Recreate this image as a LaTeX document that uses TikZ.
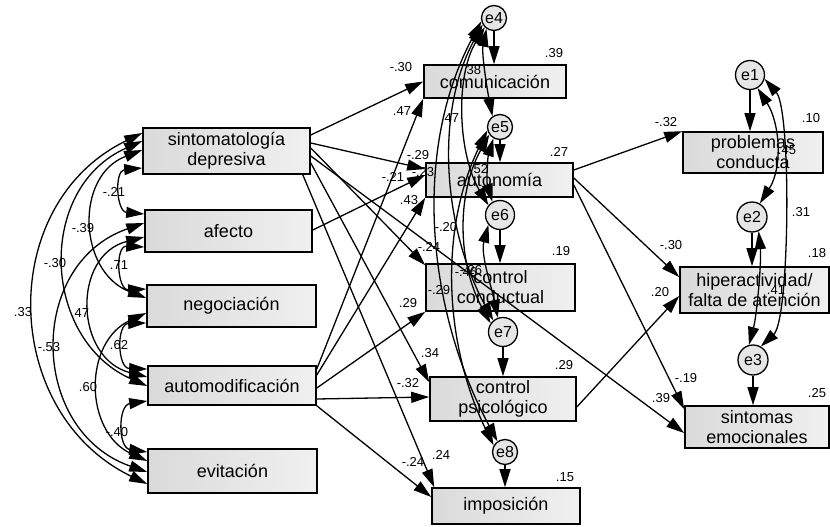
\documentclass[tikz,border=0pt]{standalone}
\usepackage{fontspec}
\setmainfont{Liberation Sans}
\usetikzlibrary{arrows.meta}
\definecolor{boxdark}{RGB}{218,218,218}
\definecolor{boxlight}{RGB}{240,240,240}
\definecolor{errfill}{RGB}{230,230,230}
\begin{document}
\begin{tikzpicture}[x=1pt,y=-1pt,
  var/.style={draw, line width=1.6pt, left color=boxdark, right color=boxlight,
    inner sep=0pt, align=center, font=\fontsize{18}{20}\selectfont},
  err/.style={circle, draw, line width=1.3pt, fill=errfill, inner sep=0pt,
    minimum size=#1, font=\fontsize{16}{16}\selectfont},
  reg/.style={line width=1.3pt, -{Triangle[length=18pt,width=11pt]}},
  cov/.style={line width=1.3pt, {Triangle[length=18pt,width=11pt]}-{Triangle[length=18pt,width=11pt]}},
  lbl/.style={inner sep=0pt, font=\fontsize{13}{13}\selectfont}]
\useasboundingbox[fill=white] (0,0) rectangle (830,527);

% observed variables, left column
\node[var, minimum width=167pt, minimum height=46pt] (sd) at (226.5,151) {sintomatología\\depresiva};
\node[var, minimum width=167pt, minimum height=42pt] (af) at (228.5,231) {afecto};
\node[var, minimum width=169pt, minimum height=42pt] (ne) at (231.5,306) {negociación};
\node[var, minimum width=168pt, minimum height=39pt] (am) at (232,385.5) {automodificación};
\node[var, minimum width=169pt, minimum height=44pt] (ev) at (232.5,471) {evitación};

% middle column
\node[var, minimum width=142pt, minimum height=33pt] (com) at (495,81.5) {comunicación};
\node[var, minimum width=147pt, minimum height=34pt] (aut) at (499.5,180) {autonomía};
\node[var, minimum width=149pt, minimum height=47pt] (cc) at (500.5,287.5) {control\\conductual};
\node[var, minimum width=146pt, minimum height=44pt] (cp) at (503,399) {control\\psicológico};
\node[var, minimum width=148pt, minimum height=36pt] (imp) at (506,506) {imposición};

% right column
\node[var, minimum width=140pt, minimum height=41pt] (pc) at (753,152.5) {problemas\\conducta};
\node[var, minimum width=149pt, minimum height=46pt] (hi) at (754.5,290) {hiperactividad/\\falta de atención};
\node[var, minimum width=144pt, minimum height=42pt] (se) at (757,427) {sintomas\\emocionales};

% error terms
\node[err=29pt] (e1) at (750,75) {e1};
\node[err=30pt] (e2) at (752,217) {e2};
\node[err=30pt] (e3) at (753,360) {e3};
\node[err=25pt] (e4) at (494,18) {e4};
\node[err=25pt] (e5) at (500,127) {e5};
\node[err=29pt] (e6) at (500,215) {e6};
\node[err=29pt] (e7) at (503,332) {e7};
\node[err=25pt] (e8) at (505,452) {e8};

% covariances among the predictors
\draw[cov] ([yshift=18pt]sd.west) .. controls +(-146.7,71) and +(-146.7,-71) .. ([yshift=-13pt]ev.west);
\draw[cov] ([yshift=8pt]af.west) .. controls +(-118,41) and +(-118,-41) .. ([yshift=-1pt]ev.west);
\draw[cov] ([yshift=10pt]sd.west) .. controls +(-106,47) and +(-106,-47) .. ([yshift=-0.5pt]am.west);
\draw[cov] ([yshift=-6pt]af.west) .. controls +(-72.7,18.4) and +(-72.7,-18.4) .. ([yshift=8.5pt]am.west);
\draw[cov] ([yshift=1pt]sd.west) .. controls +(-68,26) and +(-68,-26) .. ([yshift=8pt]ne.west);
\draw[cov] ([yshift=-7pt]ne.west) .. controls +(-63.3,29) and +(-63.3,-29) .. ([yshift=10pt]ev.west);
\draw[cov] ([yshift=-17pt]sd.west) .. controls +(-28,2.5) and +(-28,-2.5) .. ([yshift=17pt]af.west);
\draw[cov] ([yshift=-16pt]af.west) .. controls +(-29.3,-1.4) and +(-29.3,1.4) .. ([yshift=17pt]ne.west);
\draw[cov] ([yshift=-17pt]ne.west) .. controls +(-30,0.7) and +(-30,-0.7) .. ([yshift=16.5pt]am.west);
\draw[cov] ([yshift=-15.5pt]am.west) .. controls +(-29.3,4.3) and +(-29.3,-4.3) .. ([yshift=19pt]ev.west);

% regressions from sintomatología depresiva
\draw[reg] ([yshift=16pt]sd.east) -- (com.west);
\draw[reg] ([yshift=8pt]sd.east) -- ([yshift=11pt]aut.west);
\draw[reg] ([yshift=3pt]sd.east) -- ([yshift=-2pt]cc.north west);
\draw[reg] ([yshift=-12pt]sd.east) -- ([yshift=-6pt]cp.north west);
\draw[reg] ([xshift=-8pt]sd.south east) -- ([xshift=3pt]imp.north west);
\draw[reg] ([yshift=-5pt]sd.east) -- ([yshift=-6pt]se.west);
% regression from afecto
\draw[reg] ([yshift=1pt]af.east) -- ([yshift=5pt]aut.west);
% regressions from automodificación
\draw[reg] ([yshift=16.5pt]am.east) -- (com.south west);
\draw[reg] ([yshift=10.5pt]am.east) -- (aut.south west);
\draw[reg] ([yshift=-2.5pt]am.east) -- (cc.south west);
\draw[reg] ([yshift=-13.5pt]am.east) -- ([yshift=2pt]cp.west);
\draw[reg] (am.south east) -- ([yshift=9pt]imp.west);
% regressions from autonomía and control psicológico
\draw[reg] ([yshift=10pt]aut.east) -- (pc.north west);
\draw[reg] ([yshift=2pt]aut.east) -- ([yshift=13pt]hi.west);
\draw[reg] ([yshift=-5pt]aut.east) -- ([yshift=-4pt]se.north west);
\draw[reg] ([yshift=-8pt]cp.east) -- ([yshift=-6pt]hi.west);

% error terms into their variables
\draw[reg] (e4.south) -- (e4.south |- com.north);
\draw[reg] (e5.south) -- (e5.south |- aut.north);
\draw[reg] (e6.south) -- (e6.south |- cc.north);
\draw[reg] (e7.south) -- (e7.south |- cp.north);
\draw[reg] (e8.south) -- (e8.south |- imp.north);
\draw[reg] (e1.south) -- (e1.south |- pc.north);
\draw[reg] (e2.south) -- (e2.south |- hi.north);
\draw[reg] (e3.south) -- (e3.south |- se.north);

% covariances among the mediator errors
\draw[cov] (e4.235) .. controls +(-5,25) and +(-5,-25) .. (e5.125);
\draw[cov] (e4.225) .. controls +(-30,50) and +(-30,-50) .. (e6.140);
\draw[cov] (e4.210) .. controls +(-49,90) and +(-49,-90) .. (e7.130);
\draw[cov] (e4.195) .. controls +(-70,130) and +(-70,-130) .. (e8.125);
\draw[cov] (e5.240) .. controls +(-6,20) and +(-6,-20) .. (e6.120);
\draw[cov] (e5.215) .. controls +(-33,60) and +(-33,-60) .. (e7.145);
\draw[cov] (e5.195) .. controls +(-49,100) and +(-49,-100) .. (e8.150);
\draw[cov] (e6.220) .. controls +(-8,30) and +(-6,-30) .. (e7.110);

% covariances among the outcome errors
\draw[cov] (e1.-60) .. controls +(22.7,35.7) and +(22.7,-35.7) .. (e2.60);
\draw[cov] (e1.-15) .. controls +(27,31) and +(29,-27) .. (e3.60);
\draw[cov] (e2.-65) .. controls +(3,30) and +(8,-30) .. (e3.105);

% coefficients, left
\node[lbl] (c1) at (114,192) {-.21};
\node[lbl] (c2) at (83,228) {-.39};
\node[lbl] (c3) at (55,263) {-.30};
\node[lbl] (c4) at (119,265) {.71};
\node[lbl] (c5) at (23,312) {.33};
\node[lbl] (c6) at (80,313) {.47};
\node[lbl] (c7) at (49,347) {-.53};
\node[lbl] (c8) at (119,345) {.62};
\node[lbl] (c9) at (88,387) {.60};
\node[lbl] (c10) at (117,432) {-.40};

% coefficients, middle
\node[lbl] (m1) at (401,67) {-.30};
\node[lbl] (m2) at (402,111) {.47};
\node[lbl] (m3) at (418,155) {-.29};
\node[lbl] (m4) at (393,177) {-.21};
\node[lbl] (m5) at (423,172) {-.23};
\node[lbl] (m6) at (409,200) {.43};
\node[lbl] (m7) at (429,247) {-.24};
\node[lbl] (m8) at (446,227) {-.20};
\node[lbl] (m9) at (439,290) {-.29};
\node[lbl] (m10) at (466,272) {-.46};
\node[lbl] (m11) at (471,270) {-.26};
\node[lbl] (m12) at (472,70) {.38};
\node[lbl] (m13) at (450,118) {.47};
\node[lbl] (m14) at (479,169) {.52};
\node[lbl] (m15) at (408,303) {.29};
\node[lbl] (m16) at (430,353) {.34};
\node[lbl] (m17) at (408,383) {-.32};
\node[lbl] (m18) at (413,462) {-.24};
\node[lbl] (m19) at (441,455) {.24};

% squared multiple correlations
\node[lbl] (r1) at (554,53) {.39};
\node[lbl] (r2) at (559,152) {.27};
\node[lbl] (r3) at (561,251) {.19};
\node[lbl] (r4) at (564,365) {.29};
\node[lbl] (r5) at (565,477) {.15};
\node[lbl] (r6) at (811,118) {.10};
\node[lbl] (r7) at (817,253) {.18};
\node[lbl] (r8) at (817,393) {.25};

% coefficients, right
\node[lbl] (p1) at (666,122) {-.32};
\node[lbl] (p2) at (671,245) {-.30};
\node[lbl] (p3) at (660,292) {.20};
\node[lbl] (p4) at (686,378) {-.19};
\node[lbl] (p5) at (661,398) {.39};
\node[lbl] (p6) at (787,150) {.45};
\node[lbl] (p7) at (801,212) {.31};
\node[lbl] (p8) at (776,290) {.41};
\end{tikzpicture}
\end{document}
